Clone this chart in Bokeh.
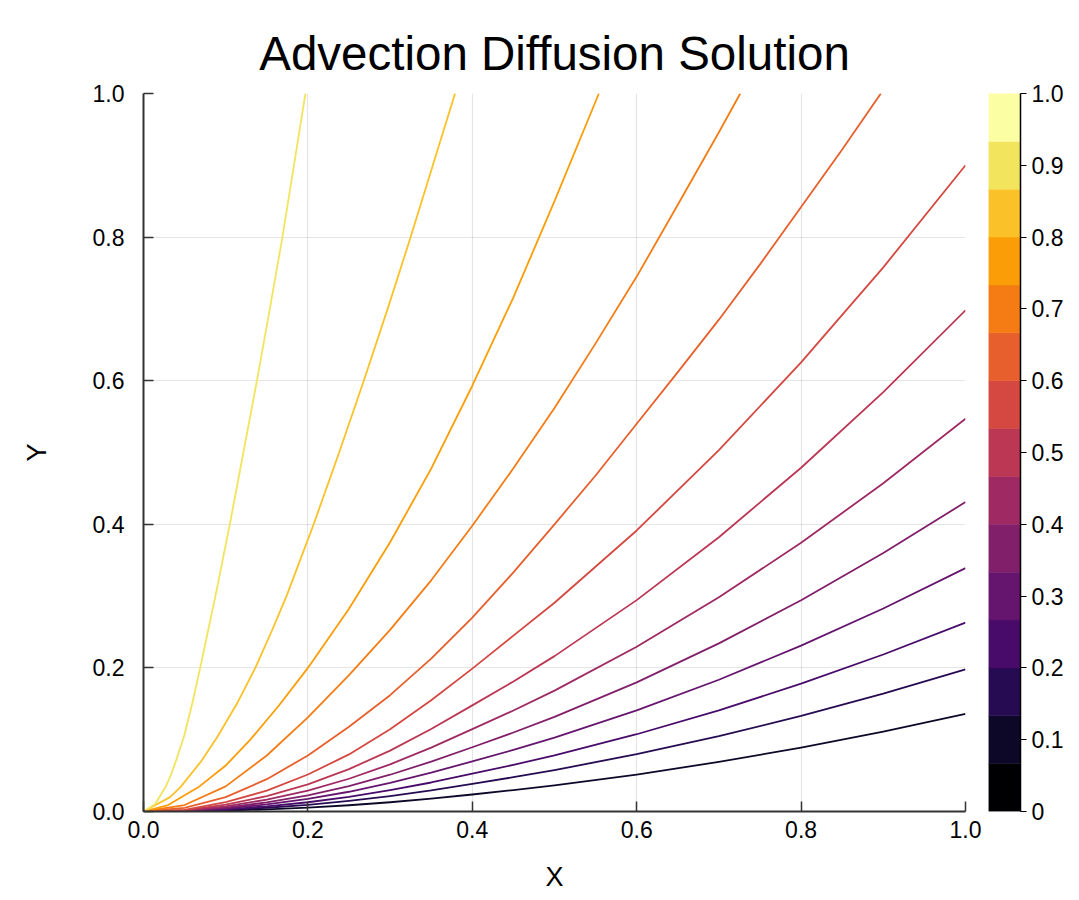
from bokeh.plotting import figure
from bokeh.models import Range1d, FixedTicker, LinearAxis
from bokeh.layouts import row
from bokeh.palettes import Inferno256
from bokeh.embed import file_html
from bokeh.resources import INLINE

# ---------------- data ----------------
title_text = "Advection Diffusion Solution"
x_label = "X"
y_label = "Y"
axis_ticks = [0.0, 0.2, 0.4, 0.6, 0.8, 1.0]
axis_tick_labels = ["0.0", "0.2", "0.4", "0.6", "0.8", "1.0"]
cbar_ticks = [0.0, 0.1, 0.2, 0.3, 0.4, 0.5, 0.6, 0.7, 0.8, 0.9, 1.0]
cbar_tick_labels = ["0", "0.1", "0.2", "0.3", "0.4", "0.5", "0.6", "0.7", "0.8", "0.9", "1.0"]
# colour-band boundaries of the colour bar (15 bands)
band_bounds = [0.0, 0.0667, 0.1333, 0.2, 0.2667, 0.3333, 0.4, 0.4667, 0.5333,
               0.6, 0.6667, 0.7333, 0.8, 0.8667, 0.9333, 1.0]
# contour level index of each drawn line (1 = darkest, 13 = lightest)
line_levels = [1, 2, 3, 4, 5, 6, 7, 8, 9, 10, 11, 12, 13]

# lower contours (leave through the right edge), read at common x positions
x_low = [0.0, 0.05, 0.1, 0.15, 0.2, 0.25, 0.3, 0.35, 0.4, 0.45, 0.5, 0.6, 0.7, 0.8, 0.9, 1.0]
y_c1 = [0.0, 0.0002, 0.0011, 0.003, 0.0054, 0.0087, 0.0129, 0.0178, 0.0237, 0.0298, 0.0364, 0.0515, 0.0691, 0.089, 0.1113, 0.136]
y_c2 = [0.0, 0.0003, 0.0021, 0.0052, 0.0093, 0.0148, 0.0215, 0.0293, 0.0385, 0.0478, 0.0577, 0.0798, 0.1049, 0.1331, 0.1641, 0.198]
y_c3 = [0.0, 0.0005, 0.003, 0.0072, 0.0129, 0.0205, 0.0298, 0.0404, 0.0526, 0.065, 0.0782, 0.1076, 0.1409, 0.178, 0.2187, 0.263]
y_c4 = [0.0, 0.0007, 0.0042, 0.0098, 0.0175, 0.0275, 0.0398, 0.054, 0.0698, 0.0858, 0.1029, 0.1408, 0.1835, 0.231, 0.2828, 0.339]
y_c5 = [0.0, 0.0009, 0.0055, 0.0127, 0.0226, 0.0355, 0.0512, 0.0695, 0.0895, 0.110, 0.1318, 0.1799, 0.2342, 0.2943, 0.3599, 0.431]
y_c6 = [0.0, 0.0012, 0.0072, 0.0165, 0.0292, 0.0456, 0.0657, 0.089, 0.1147, 0.1407, 0.1684, 0.2295, 0.2983, 0.3743, 0.4572, 0.547]
y_c7 = [0.0, 0.0016, 0.0095, 0.0215, 0.0378, 0.059, 0.0848, 0.1148, 0.1478, 0.1811, 0.2164, 0.2944, 0.382, 0.4788, 0.5842, 0.698]
y_c8 = [0.0, 0.0022, 0.013, 0.029, 0.0515, 0.0795, 0.1145, 0.155, 0.199, 0.2449, 0.2908, 0.3914, 0.5032, 0.6256, 0.7579, 0.900]

# upper contours, which leave through the top edge
x_c9 = [0.0, 0.05, 0.1, 0.15, 0.2, 0.25, 0.3, 0.35, 0.4, 0.45, 0.5, 0.55, 0.6, 0.65, 0.7, 0.75, 0.8, 0.85, 0.897]
y_c9 = [0.0, 0.005, 0.02, 0.045, 0.078, 0.118, 0.162, 0.213, 0.27, 0.333, 0.40, 0.468, 0.54, 0.612, 0.685, 0.762, 0.842, 0.922, 1.0]
x_c10 = [0.0, 0.05, 0.1, 0.15, 0.2, 0.25, 0.3, 0.35, 0.4, 0.45, 0.5, 0.55, 0.6, 0.65, 0.7, 0.726]
y_c10 = [0.0, 0.009, 0.035, 0.078, 0.131, 0.19, 0.253, 0.322, 0.398, 0.478, 0.562, 0.652, 0.745, 0.845, 0.946, 1.0]
x_c11 = [0.0, 0.03, 0.067, 0.1, 0.13, 0.165, 0.2, 0.25, 0.3, 0.35, 0.4, 0.45, 0.5, 0.554]
y_c11 = [0.0, 0.009, 0.034, 0.064, 0.10, 0.148, 0.20, 0.2825, 0.375, 0.4775, 0.593, 0.716, 0.85, 1.0]
y_c12 = [0.0, 0.02, 0.034, 0.07, 0.1035, 0.15, 0.2, 0.25, 0.3, 0.4, 0.5, 0.6, 0.7, 0.8, 0.9, 1.0]
x_c12 = [0.0, 0.0323, 0.045, 0.0702, 0.0896, 0.1136, 0.136, 0.1555, 0.174, 0.207, 0.238, 0.268, 0.297, 0.325, 0.352, 0.379]
y_c13 = [0.0, 0.01, 0.034, 0.05, 0.072, 0.1035, 0.149, 0.2, 0.249, 0.3, 0.4, 0.5, 0.6, 0.7, 0.8, 0.9, 1.0]
x_c13 = [0.0, 0.014, 0.0268, 0.033, 0.04, 0.049, 0.059, 0.069, 0.078, 0.0875, 0.105, 0.1215, 0.138, 0.1537, 0.169, 0.183, 0.197]

curves_x = [x_low] * 8 + [x_c9, x_c10, x_c11, x_c12, x_c13]
curves_y = [y_c1, y_c2, y_c3, y_c4, y_c5, y_c6, y_c7, y_c8, y_c9, y_c10, y_c11, y_c12, y_c13]

# colours: inferno sampled at the 15 level values
band_colors = [Inferno256[round(k * 255 / 14)] for k in range(15)]

FONT = "Liberation Sans"
TICK_SIZE = "23px"

# ---------------- main figure ----------------
p = figure(width=983, height=900, x_range=Range1d(0, 1), y_range=Range1d(0, 1),
           output_backend="svg", toolbar_location=None,
           min_border_left=143, min_border_right=18, min_border_top=93, min_border_bottom=89)
p.outline_line_color = None
p.background_fill_color = "white"
p.border_fill_color = "white"

p.title.text = title_text
p.title.align = "center"
p.title.text_font = FONT
p.title.text_font_size = "47.5px"
p.title.text_font_style = "normal"
p.title.text_color = "black"
p.title.standoff = 27

for ax in (p.xaxis[0], p.yaxis[0]):
    ax.ticker = FixedTicker(ticks=axis_ticks)
    ax.major_label_overrides = {t: l for t, l in zip(axis_ticks, axis_tick_labels)}
    ax.minor_tick_line_color = None
    ax.major_tick_in = 10
    ax.major_tick_out = 0
    ax.major_tick_line_color = "#333333"
    ax.major_tick_line_width = 1.5
    ax.axis_line_color = "#333333"
    ax.axis_line_width = 2
    ax.major_label_text_font = FONT
    ax.major_label_text_font_size = TICK_SIZE
    ax.major_label_text_color = "black"
    ax.axis_label_text_font = FONT
    ax.axis_label_text_font_size = "27px"
    ax.axis_label_text_font_style = "normal"
    ax.axis_label_text_color = "black"

p.xaxis.axis_label = x_label
p.yaxis.axis_label = y_label
p.xaxis.major_label_standoff = 9
p.xaxis.axis_label_standoff = 21
p.yaxis.major_label_standoff = 19
p.yaxis.axis_label_standoff = 38

for g in (p.xgrid[0], p.ygrid[0]):
    g.ticker = FixedTicker(ticks=axis_ticks)
    g.grid_line_color = "black"
    g.grid_line_alpha = 0.1
    g.grid_line_width = 1.2

for lev, xs, ys in zip(line_levels, curves_x, curves_y):
    p.line(xs, ys, line_color=band_colors[lev], line_width=1.8, line_join="round")

# ---------------- colour bar ----------------
cb = figure(width=92, height=900, x_range=Range1d(0, 1), y_range=Range1d(0, 1),
            output_backend="svg", toolbar_location=None,
            x_axis_type=None, y_axis_type=None,
            min_border_left=5, min_border_right=55, min_border_top=93, min_border_bottom=89)
cb.outline_line_color = None
cb.grid.visible = False
cb.quad(left=0, right=1, bottom=band_bounds[:-1], top=band_bounds[1:],
        fill_color=band_colors, line_color=band_colors, line_width=0.5)
cax = LinearAxis(ticker=FixedTicker(ticks=cbar_ticks),
                 major_label_overrides={t: l for t, l in zip(cbar_ticks, cbar_tick_labels)})
cax.minor_tick_line_color = None
cax.major_tick_in = 0
cax.major_tick_out = 6
cax.major_tick_line_color = "black"
cax.axis_line_color = "black"
cax.axis_line_width = 1.5
cax.major_label_standoff = 5
cax.major_label_text_font = FONT
cax.major_label_text_font_size = TICK_SIZE
cax.major_label_text_color = "black"
cb.add_layout(cax, "right")

layout = row(p, cb)
open("out.html", "w").write(file_html(layout, INLINE))
